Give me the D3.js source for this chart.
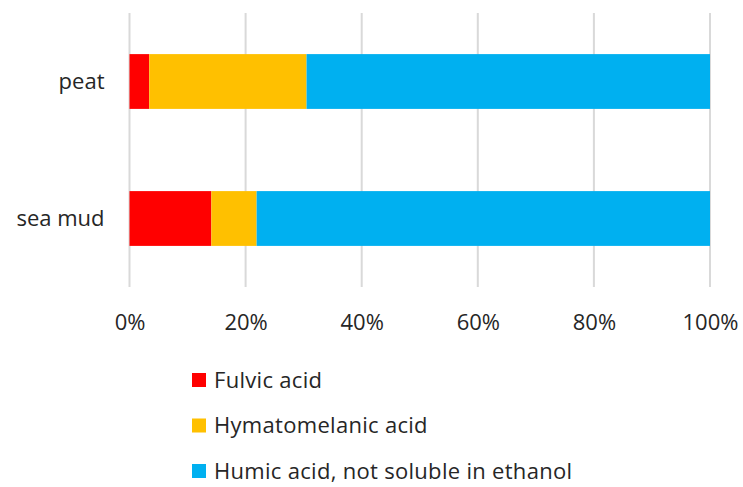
<!DOCTYPE html>
<html>
<head>
<meta charset="utf-8">
<script src="https://cdn.jsdelivr.net/npm/d3@7"></script>
<style>
  body { margin: 0; background: #fff; }
  text { font-family: "Open Sans", sans-serif; fill: #262626; }
</style>
</head>
<body>
<div id="chart"></div>
<script>
const categories = ["peat", "sea mud"];
const seriesNames = ["Fulvic acid", "Hymatomelanic acid", "Humic acid, not soluble in ethanol"];
const seriesColors = ["#ff0000", "#ffc000", "#00b0f0"];
const fulvic = [3.4, 14.1];
const hymatomelanic = [27.1, 7.8];
const humic = [69.5, 78.1];
const tickValues = [0, 0.2, 0.4, 0.6, 0.8, 1];

const width = 743, height = 487;
const plot = {left: 129.5, right: 710, top: 13, bottom: 287};
const fontSize = 22;

const svg = d3.select("#chart").append("svg")
    .attr("width", width)
    .attr("height", height);

const rows = categories.map((c, i) => ({
    name: c,
    "Fulvic acid": fulvic[i],
    "Hymatomelanic acid": hymatomelanic[i],
    "Humic acid, not soluble in ethanol": humic[i]
}));

const stacked = d3.stack().keys(seriesNames).offset(d3.stackOffsetExpand)(rows);

const x = d3.scaleLinear().domain([0, 1]).range([plot.left, plot.right]);
const y = d3.scaleBand().domain(categories).range([plot.top, plot.bottom]).paddingInner(0.6).paddingOuter(0.3);
const color = d3.scaleOrdinal().domain(seriesNames).range(seriesColors);

// grid lines
svg.append("g")
    .selectAll("line")
    .data(tickValues)
    .enter()
    .append("line")
    .attr("x1", d => x(d))
    .attr("x2", d => x(d))
    .attr("y1", plot.top)
    .attr("y2", plot.bottom)
    .attr("stroke", "#d9d9d9")
    .attr("stroke-width", 2);

// bars
svg.append("g")
    .selectAll("g")
    .data(stacked)
    .enter()
    .append("g")
    .attr("fill", d => color(d.key))
    .selectAll("rect")
    .data(d => d)
    .enter()
    .append("rect")
    .attr("x", d => x(d[0]))
    .attr("width", d => x(d[1]) - x(d[0]))
    .attr("y", d => y(d.data.name))
    .attr("height", y.bandwidth());

// x axis labels
const xAxis = svg.append("g")
    .attr("transform", "translate(0," + plot.bottom + ")")
    .call(d3.axisBottom(x).tickValues(tickValues).tickFormat(d3.format(".0%")).tickSize(0).tickPadding(27));
xAxis.select(".domain").remove();
xAxis.selectAll("text")
    .attr("font-size", fontSize)
    .style("font-family", "'Open Sans', sans-serif")
    .attr("fill", "#262626");

// y axis labels
const yAxis = svg.append("g")
    .attr("transform", "translate(" + (plot.left - 25) + ",0)")
    .call(d3.axisLeft(y).tickSize(0).tickPadding(0));
yAxis.select(".domain").remove();
yAxis.selectAll("text")
    .attr("font-size", fontSize)
    .style("font-family", "'Open Sans', sans-serif")
    .attr("fill", "#262626");

// legend
const legend = svg.append("g")
    .selectAll("g")
    .data(seriesNames)
    .enter()
    .append("g")
    .attr("transform", (d, i) => "translate(192," + (380 + i * 45.5) + ")");

legend.append("rect")
    .attr("x", 0)
    .attr("y", -7)
    .attr("width", 14)
    .attr("height", 14)
    .attr("fill", d => color(d));

legend.append("text")
    .attr("x", 22)
    .attr("dy", "0.35em")
    .attr("font-size", fontSize)
    .attr("letter-spacing", 0.3)
    .text(d => d);
</script>
</body>
</html>
